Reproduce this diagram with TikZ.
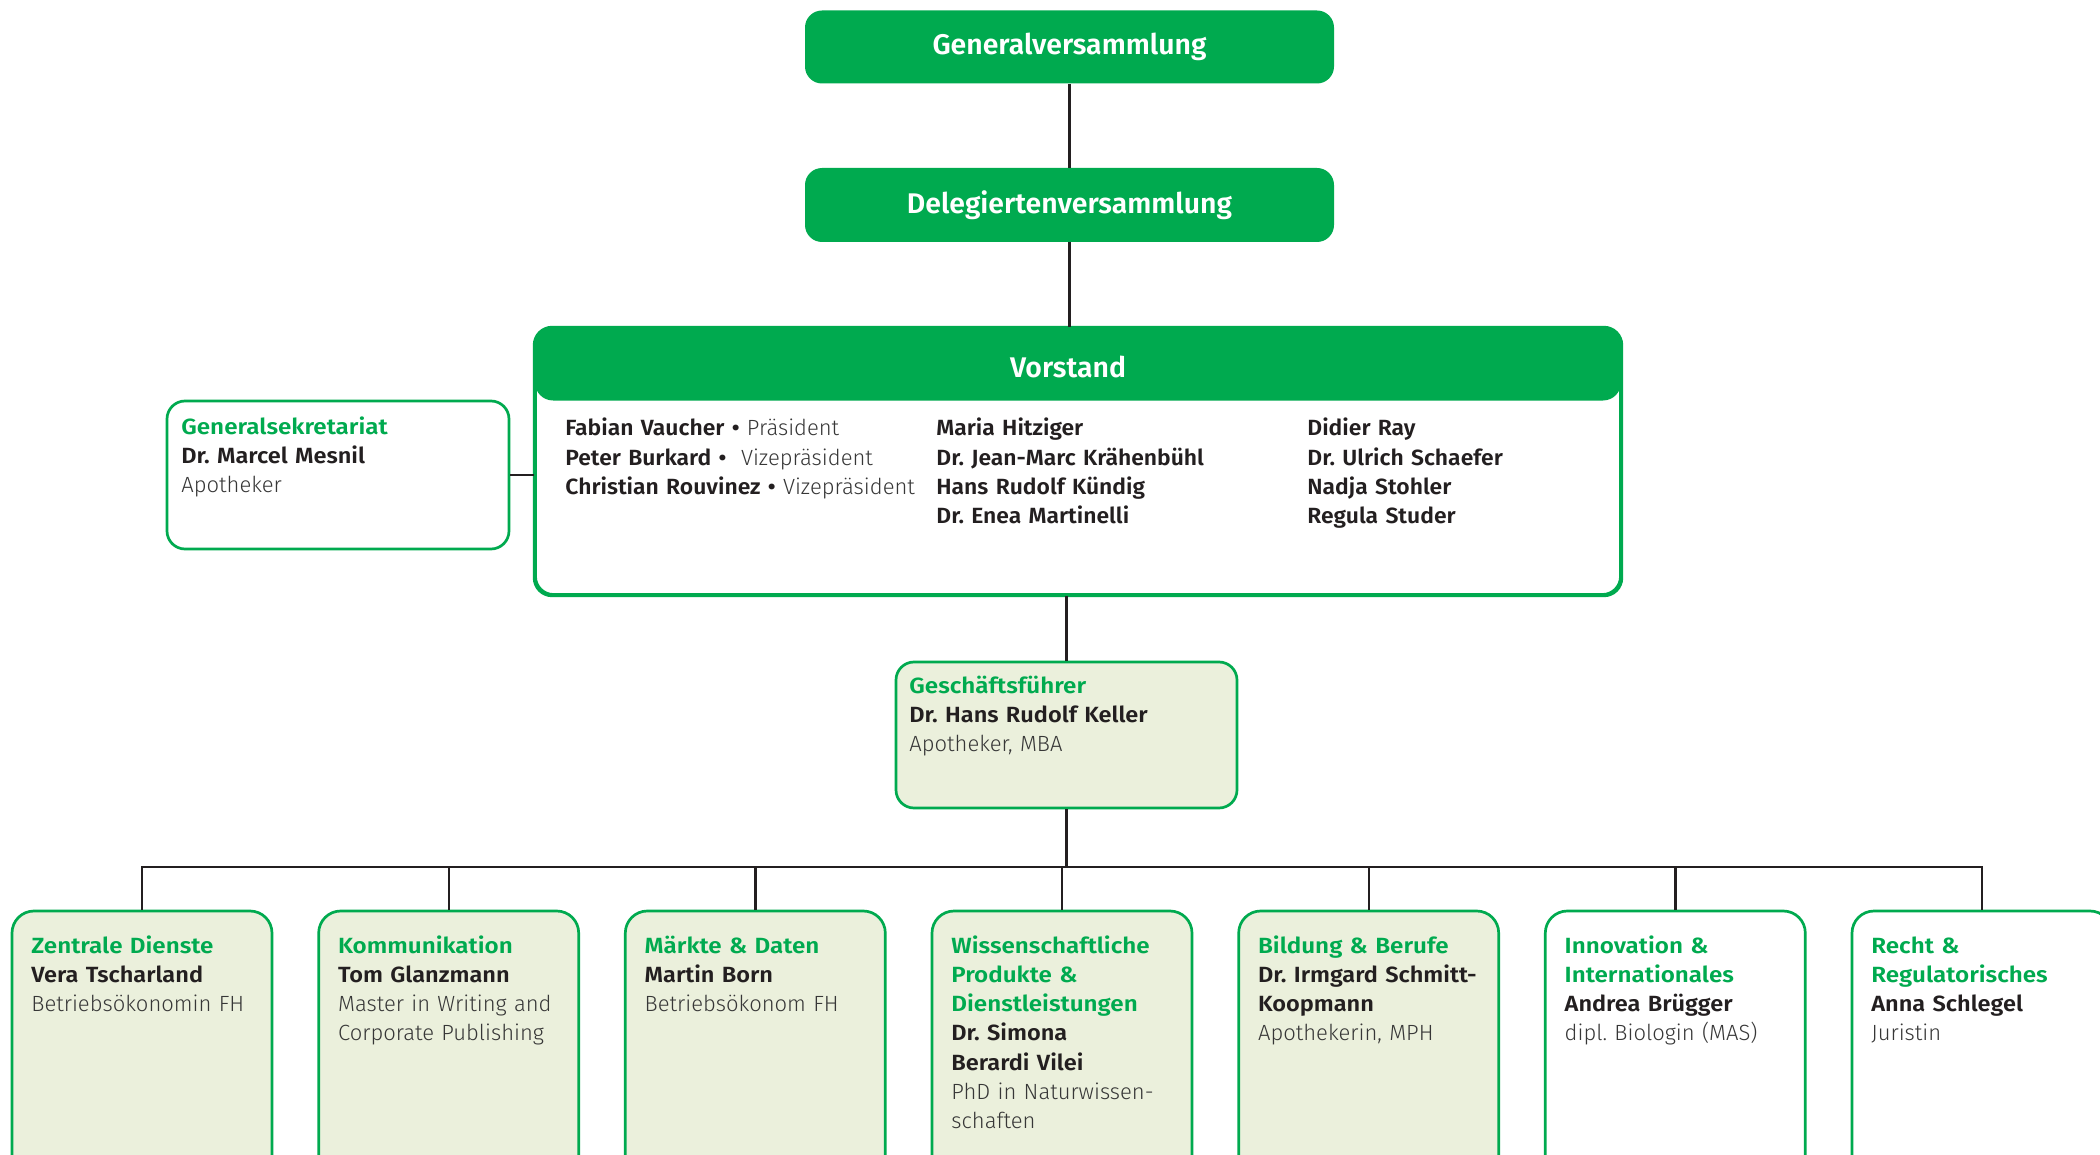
\documentclass[tikz,border=0pt]{standalone}
\usepackage{fontspec}
\setmainfont{Fira Sans}
\IfFontExistsTF{Fira Sans Light}{\newfontfamily\flight{Fira Sans Light}}{\newfontfamily\flight{Fira Sans}}
\IfFontExistsTF{Fira Sans SemiBold}{%
  \newfontfamily\fsemi{Fira Sans SemiBold}%
  \newfontfamily\ftitle{Fira Sans SemiBold}[FakeStretch=1.1]%
  \newfontfamily\fname{Fira Sans SemiBold}[FakeStretch=1.07]%
  \newfontfamily\fvname{Fira Sans SemiBold}[FakeStretch=1.04]}{%
  \newfontfamily\fsemiX{Fira Sans}\newcommand\fsemi{\fsemiX\bfseries}%
  \newfontfamily\ftitleX{Fira Sans}[FakeStretch=1.1]\newcommand\ftitle{\ftitleX\bfseries}%
  \newfontfamily\fnameX{Fira Sans}[FakeStretch=1.07]\newcommand\fname{\fnameX\bfseries}%
  \newfontfamily\fvnameX{Fira Sans}[FakeStretch=1.04]\newcommand\fvname{\fvnameX\bfseries}}
\definecolor{pgreen}{RGB}{0,170,79}
\definecolor{pfill}{RGB}{235,240,220}
\definecolor{ptext}{RGB}{35,31,32}
\definecolor{plight}{RGB}{55,55,55}
\newcommand\ttl[1]{{\ftitle\color{pgreen}#1}}
\newcommand\nm[1]{{\fname\color{ptext}#1}}
\newcommand\vnm[1]{{\fvname\color{ptext}#1}}
\newcommand\dg[1]{{\flight\color{plight}#1}}
\frenchspacing
\tikzset{
  hdrbox/.style={fill=pgreen, rounded corners=8.5pt, minimum width=264.5pt, minimum height=36.5pt, inner sep=0pt, text=white, font=\fsemi\fontsize{14.2}{17}\selectfont},
  hdrtext/.style={inner sep=0pt, text=white, font=\fsemi\fontsize{14.2}{17}\selectfont},
  outbox/.style={draw=pgreen, line width=1.35pt, fill=white, inner sep=0pt, rounded corners=9pt},
  fillbox/.style={outbox, fill=pfill},
  deptbox/.style={outbox, minimum width=130pt, minimum height=139.5pt, rounded corners=11pt},
  deptfill/.style={deptbox, fill=pfill},
  infotext/.style={anchor=base west, inner sep=0pt, align=left, text width=125pt, font=\frenchspacing\fontsize{11}{14.65}\selectfont},
  conn/.style={draw=ptext, line width=1.2pt},
}
\begin{document}
\begin{tikzpicture}[x=0.5pt,y=-0.5pt]
\clip (0,0) rectangle (2100,1155);
\fill[white] (0,0) rectangle (2100,1155);
% top boxes
\node[hdrbox] (gv) at (1069.5,47) {Generalversammlung};
\node[hdrbox, minimum height=37pt] (dv) at (1069.5,205) {Delegiertenversammlung};
% Vorstand
\node[outbox, minimum width=542.5pt, minimum height=133pt] (vorstand) at (1078,461.5) {};
\node[hdrbox, minimum width=543pt, minimum height=36.5pt, rounded corners=9pt] (vhead) at (1078,364) {};
\node[hdrtext] (vtitle) at (1068,367) {Vorstand};
\draw[draw=pgreen, line width=1.35pt, rounded corners=9pt] (vorstand.north west) rectangle (vorstand.south east);
\node[infotext, text width=200pt] (vc1) at (565,436) {\vnm{Fabian Vaucher •} \dg{Präsident}\\\vnm{Peter Burkard •} \dg{\ Vizepräsident}\\\vnm{Christian Rouvinez •} \dg{Vizepräsident}};
\node[infotext, text width=170pt] (vc2) at (936,436) {\vnm{Maria Hitziger}\\\vnm{Dr. Jean-Marc Krähenbühl}\\\vnm{Hans Rudolf Kündig}\\\vnm{Dr. Enea Martinelli}};
\node[infotext, text width=150pt] (vc3) at (1307,436) {\vnm{Didier Ray}\\\vnm{Dr. Ulrich Schaefer}\\\vnm{Nadja Stohler}\\\vnm{Regula Studer}};
% Generalsekretariat
\node[outbox, minimum width=171pt, minimum height=74pt] (gensek) at (338,475) {};
\node[infotext] (gensekt) at (181,434) {\ttl{Generalsekretariat}\\\nm{Dr. Marcel Mesnil}\\\dg{Apotheker}};
% Geschaeftsfuehrer
\node[fillbox, minimum width=170.5pt, minimum height=73pt] (gf) at (1066.5,735) {};
\node[infotext, text width=160pt] (gft) at (909,693) {\ttl{Geschäftsführer}\\\nm{Dr. Hans Rudolf Keller}\\\dg{Apotheker, MBA}};
% departments
\node[deptfill] (zd) at (142,1050.5) {};
\node[deptfill] (ko) at (448.7,1050.5) {};
\node[deptfill] (md) at (755.3,1050.5) {};
\node[deptfill] (wp) at (1062,1050.5) {};
\node[deptfill] (bb) at (1368.7,1050.5) {};
\node[deptbox] (ii) at (1675.3,1050.5) {};
\node[deptbox] (rr) at (1982,1050.5) {};
\node[infotext] (zdt) at (31,953) {\ttl{Zentrale Dienste}\\\nm{Vera Tscharland}\\\dg{Betriebsökonomin FH}};
\node[infotext] (kot) at (337.7,953) {\ttl{Kommunikation}\\\nm{Tom Glanzmann}\\\dg{Master in Writing and}\\\dg{Corporate Publishing}};
\node[infotext] (mdt) at (644.3,953) {\ttl{Märkte \& Daten}\\\nm{Martin Born}\\\dg{Betriebsökonom FH}};
\node[infotext] (wpt) at (951,953) {\ttl{Wissenschaftliche}\\\ttl{Produkte \&}\\\ttl{Dienstleistungen}\\\nm{Dr. Simona}\\\nm{Berardi Vilei}\\\dg{PhD in Naturwissen-}\\\dg{schaften}};
\node[infotext] (bbt) at (1257.7,953) {\ttl{Bildung \& Berufe}\\\nm{Dr. Irmgard Schmitt-}\\\nm{Koopmann}\\\dg{Apothekerin, MPH}};
\node[infotext] (iit) at (1564.3,953) {\ttl{Innovation \&}\\\ttl{Internationales}\\\nm{Andrea Brügger}\\\dg{dipl. Biologin (MAS)}};
\node[infotext] (rrt) at (1871,953) {\ttl{Recht \&}\\\ttl{Regulatorisches}\\\nm{Anna Schlegel}\\\dg{Juristin}};
% connectors
\coordinate (bus) at (1066.5,867);
\draw[conn] (gv.south) -- (dv.north);
\draw[conn] (dv.south) -- (dv.south |- vorstand.north);
\draw[conn] (gensek.east) -- (gensek.east -| vorstand.west);
\draw[conn] (gf.north |- vorstand.south) -- (gf.north);
\draw[conn] (gf.south) -- (bus);
\draw[conn] (zd.north) -- (zd.north |- bus) -- (rr.north |- bus) -- (rr.north);
\foreach \b in {ko,md,wp,bb,ii}{\draw[conn] (\b.north) -- (\b.north |- bus);}
\end{tikzpicture}
\end{document}
